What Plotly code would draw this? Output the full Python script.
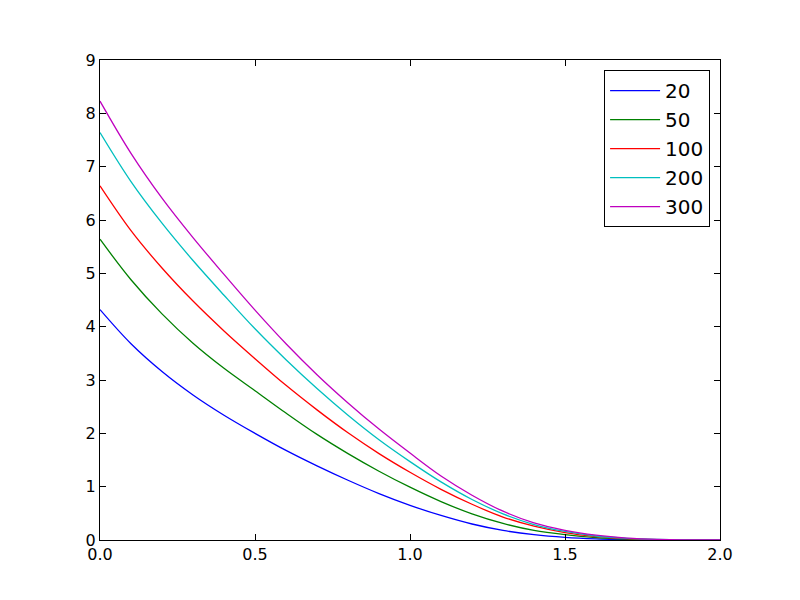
import plotly.graph_objects as go

x = [0.0, 0.1, 0.2, 0.3, 0.4, 0.5, 0.6, 0.7, 0.8, 0.9, 1.0,
     1.1, 1.2, 1.3, 1.4, 1.5, 1.6, 1.7, 1.8, 1.9, 2.0]

labels = ["20", "50", "100", "200", "300"]

y_20 = [4.32, 3.68, 3.16, 2.72, 2.34, 2.00, 1.68, 1.39, 1.12, 0.87, 0.65,
        0.46, 0.30, 0.18, 0.10, 0.05, 0.022, 0.008, 0.002, 0.0, 0.0]
y_50 = [5.64, 4.88, 4.24, 3.69, 3.22, 2.80, 2.38, 1.98, 1.62, 1.29, 0.99,
        0.72, 0.49, 0.31, 0.18, 0.10, 0.045, 0.017, 0.005, 0.001, 0.0]
y_100 = [6.64, 5.80, 5.10, 4.48, 3.92, 3.40, 2.90, 2.44, 2.01, 1.62, 1.27,
         0.95, 0.67, 0.43, 0.26, 0.14, 0.065, 0.025, 0.008, 0.002, 0.0]
y_200 = [7.64, 6.72, 5.94, 5.24, 4.59, 3.96, 3.38, 2.84, 2.34, 1.88, 1.47,
         1.09, 0.76, 0.49, 0.29, 0.16, 0.075, 0.03, 0.01, 0.002, 0.0]
y_300 = [8.23, 7.25, 6.41, 5.67, 4.98, 4.31, 3.68, 3.10, 2.57, 2.08, 1.63,
         1.20, 0.84, 0.54, 0.32, 0.18, 0.09, 0.037, 0.012, 0.003, 0.0]

series = [y_20, y_50, y_100, y_200, y_300]
colors = ["#0000ff", "#008000", "#ff0000", "#00bfbf", "#bf00bf"]

fig = go.Figure()
for name, ys, col in zip(labels, series, colors):
    fig.add_trace(go.Scatter(
        x=x, y=ys, mode="lines", name=name,
        line=dict(color=col, width=1.3, shape="spline", smoothing=1.0),
    ))

axis_common = dict(
    showgrid=False, zeroline=False, showline=True, linecolor="black",
    linewidth=1, mirror="ticks", ticks="inside", ticklen=6,
    tickcolor="black", tickfont=dict(family="DejaVu Sans", size=16, color="black"),
)

fig.update_layout(
    width=800, height=600,
    margin=dict(l=92, r=88, t=52, b=68),
    paper_bgcolor="white", plot_bgcolor="white",
    xaxis=dict(range=[0, 2], tickvals=[0, 0.5, 1.0, 1.5, 2.0],
               ticktext=["0.0", "0.5", "1.0", "1.5", "2.0"], **axis_common),
    yaxis=dict(range=[0, 9], tickvals=list(range(10)), **axis_common),
    legend=dict(x=0.984, y=0.979, xanchor="right", yanchor="top",
                bordercolor="black", borderwidth=1, bgcolor="white",
                font=dict(family="DejaVu Sans", size=20, color="black"),
                itemwidth=50, tracegroupgap=0),
    showlegend=True,
)

fig.write_html("out.html")
